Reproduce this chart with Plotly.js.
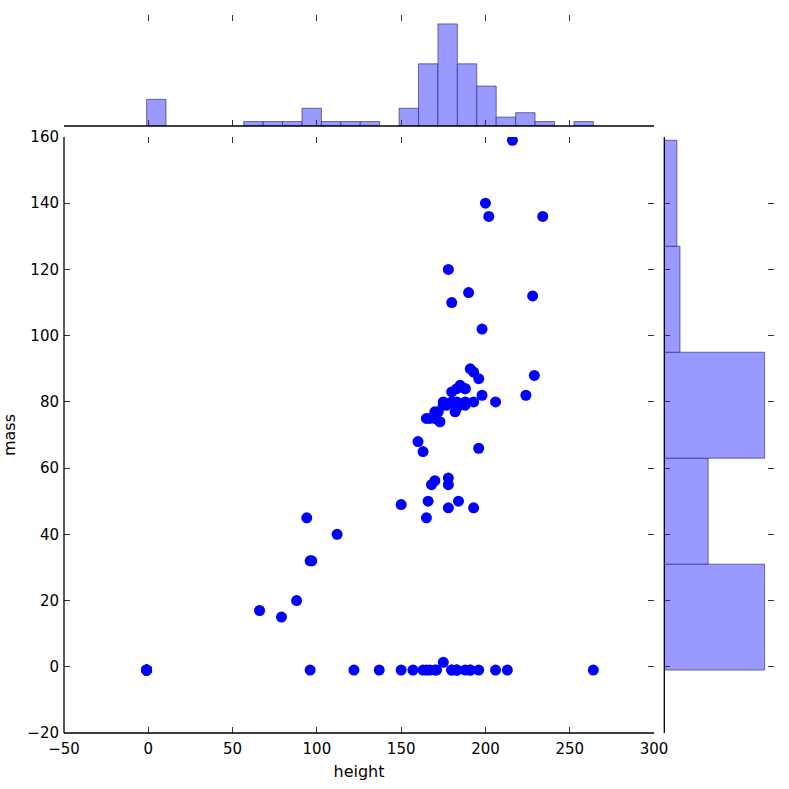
<!DOCTYPE html>
<html>
<head>
<meta charset="utf-8">
<script src="https://cdn.plot.ly/plotly-3.0.1.min.js"></script>
<style>html,body{margin:0;padding:0;background:#fff;}#chart{width:789px;height:789px;}</style>
</head>
<body>
<div id="chart"></div>
<script>
// Star Wars characters: height (cm) and mass (kg); missing values shown as -1
var height = [172,167,96,202,150,178,165,97,183,182,
              188,180,228,180,173,175,170,180,66,170,
              183,200,190,177,175,180,150,-1,88,160,
              193,191,170,196,224,206,183,137,112,183,
              163,175,180,178,94,122,163,188,198,196,
              171,184,188,264,188,196,185,157,183,183,
              170,166,165,193,191,183,168,198,229,213,
              167,79,96,193,191,178,216,234,188,178,
              206,-1,-1,-1,-1,-1,165];
var mass = [77,75,32,136,49,120,75,32,84,77,
            84,-1,112,80,74,1.358,77,110,17,75,
            78.2,140,113,79,79,83,-1,-1,20,68,
            89,90,-1,66,82,-1,-1,-1,40,-1,
            -1,80,-1,55,45,-1,65,84,82,87,
            -1,50,-1,-1,80,-1,85,-1,-1,80,
            56.2,50,-1,80,-1,79,55,102,88,-1,
            -1,15,-1,48,-1,57,159,136,79,48,
            80,-1,-1,-1,-1,-1,45];
var xTickVals = [-50,0,50,100,150,200,250,300];
var yTickVals = [-20,0,20,40,60,80,100,120,140,160];

var font = {family: 'DejaVu Sans', size: 15, color: '#000'};
var titleFont = {family: 'DejaVu Sans', size: 16, color: '#000'};
var tickCol = '#333';
var barFill = '#9999ff';
var barEdge = 'rgba(20,20,80,0.55)';

var traces = [
  {type: 'scatter', mode: 'markers', x: height, y: mass, xaxis: 'x', yaxis: 'y',
   marker: {color: '#0000ff', size: 11, line: {width: 0}}, hoverinfo: 'x+y'},
  {type: 'histogram', x: height, xaxis: 'x2', yaxis: 'y2',
   xbins: {start: -1, end: 264.01, size: 11.5218},
   marker: {color: barFill, line: {color: barEdge, width: 1}}},
  {type: 'histogram', y: mass, orientation: 'h', xaxis: 'x3', yaxis: 'y3',
   ybins: {start: -1, end: 159.01, size: 32.001},
   marker: {color: barFill, line: {color: barEdge, width: 1}}}
];

var yMainDom = [0, 0.8301];
var xMainDom = [0, 0.8310];

var layout = {
  width: 789, height: 789,
  margin: {l: 64, r: 15, t: 15, b: 56, pad: 0},
  paper_bgcolor: '#fff', plot_bgcolor: 'rgba(0,0,0,0)',
  showlegend: false, font: font, bargap: 0,
  xaxis: {domain: xMainDom, anchor: 'y', range: [-50, 300], tickvals: xTickVals,
    ticks: 'inside', ticklen: 6, tickcolor: tickCol, tickwidth: 1, mirror: 'ticks',
    showline: false, showgrid: false, zeroline: false, ticklabelstandoff: 5,
    tickfont: font, title: {text: 'height', font: titleFont, standoff: 8}},
  yaxis: {domain: yMainDom, anchor: 'x', range: [-20, 160], tickvals: yTickVals,
    ticks: 'inside', ticklen: 6, tickcolor: tickCol, tickwidth: 1, mirror: 'ticks',
    showline: false, showgrid: false, zeroline: false, ticklabelstandoff: 4,
    tickfont: font, title: {text: 'mass', font: titleFont, standoff: 10}},
  xaxis2: {domain: xMainDom, anchor: 'y2', range: [-50, 300], tickvals: xTickVals,
    ticks: 'inside', ticklen: 6, tickcolor: tickCol, tickwidth: 1, mirror: 'ticks',
    showticklabels: false, showline: false, showgrid: false, zeroline: false},
  yaxis2: {domain: [0.8454, 1], anchor: 'x2', range: [0, 25], ticks: '',
    showticklabels: false, showline: false, showgrid: false, zeroline: false},
  xaxis3: {domain: [0.8455, 1], anchor: 'y3', range: [0, 35], ticks: '',
    showticklabels: false, showline: false, showgrid: false, zeroline: false},
  yaxis3: {domain: yMainDom, anchor: 'x3', range: [-20, 160], tickvals: yTickVals,
    ticks: 'inside', ticklen: 6, tickcolor: tickCol, tickwidth: 1, mirror: 'ticks',
    showticklabels: false, showline: false, showgrid: false, zeroline: false},
  shapes: [
    {type: 'line', xref: 'x domain', yref: 'y domain', x0: 0, x1: 0, y0: 0, y1: 1, line: {color: '#000', width: 1.3}},
    {type: 'line', xref: 'x domain', yref: 'y domain', x0: 0, x1: 1, y0: 0, y1: 0, line: {color: '#000', width: 1.3}},
    {type: 'line', xref: 'x2 domain', yref: 'y2 domain', x0: 0, x1: 1, y0: 0, y1: 0, line: {color: '#000', width: 1.3}},
    {type: 'line', xref: 'x3 domain', yref: 'y3 domain', x0: 0, x1: 0, y0: 0, y1: 1, line: {color: '#000', width: 1.3}}
  ]
};

Plotly.newPlot('chart', traces, layout, {displayModeBar: false, staticPlot: true});
</script>
</body>
</html>
